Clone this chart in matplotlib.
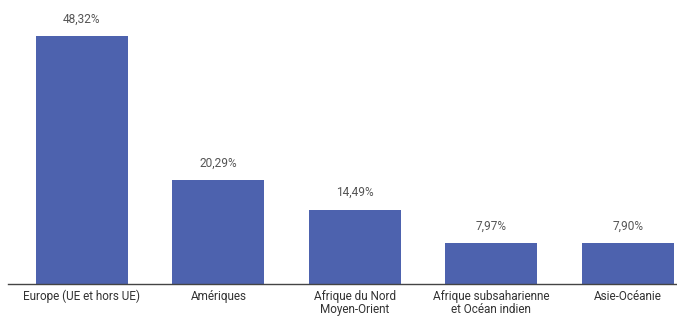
import matplotlib.pyplot as plt

regions = [
    "Europe (UE et hors UE)",
    "Amériques",
    "Afrique du Nord\nMoyen-Orient",
    "Afrique subsaharienne\net Océan indien",
    "Asie-Océanie",
]
shares = [48.32, 20.29, 14.49, 7.97, 7.90]
share_labels = ["48,32%", "20,29%", "14,49%", "7,97%", "7,90%"]

plt.rcParams["font.family"] = ["Roboto", "DejaVu Sans"]

fig = plt.figure(figsize=(6.77, 3.16), dpi=100)
ax = fig.add_axes([8 / 677, 32 / 316, 669 / 677, 284 / 316])

x = list(range(len(regions)))
ax.bar(x, shares, width=0.674, color="#4d62ae")

for xi, val, lab in zip(x, shares, share_labels):
    ax.annotate(lab, (xi, val), xytext=(0, 7.5), textcoords="offset points",
                ha="center", va="bottom", fontsize=8.6, color="#555555")

ax.set_xlim(-0.5425, 4.362)
ax.set_ylim(0, 55.3)
ax.set_xticks(x)
ax.set_xticklabels(regions, fontsize=8.5, color="#333333", linespacing=1.0)
ax.tick_params(axis="x", length=0, pad=4)
ax.set_yticks([])
for side in ["top", "right", "left"]:
    ax.spines[side].set_visible(False)
ax.spines["bottom"].set_color("#444444")
ax.spines["bottom"].set_linewidth(1.0)

fig.savefig("out.png", dpi=100)
